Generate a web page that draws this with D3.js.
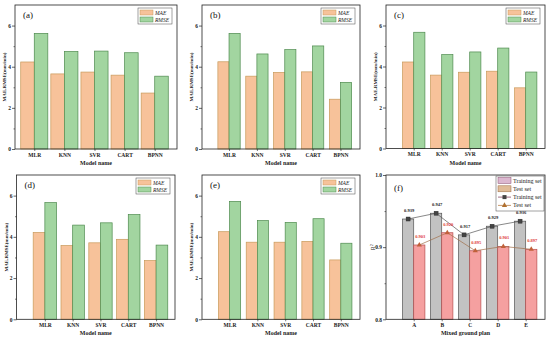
<!DOCTYPE html>
<html><head><meta charset="utf-8">
<script src="https://cdn.jsdelivr.net/npm/d3@7"></script>
<style>body{margin:0;background:#fff}svg{display:block}</style>
</head><body><div id="chart"></div>
<script>
const models = ["MLR","KNN","SVR","CART","BPNN"];
const maeA = [4.23,3.65,3.74,3.59,2.72];
const rmseA = [5.62,4.74,4.76,4.68,3.54];
const maeB = [4.24,3.54,3.72,3.75,2.42];
const rmseB = [5.62,4.62,4.83,5.01,3.24];
const maeC = [4.22,3.58,3.72,3.77,2.96];
const rmseC = [5.67,4.58,4.71,4.90,3.73];
const maeD = [4.21,3.58,3.71,3.88,2.85];
const rmseD = [5.66,4.57,4.68,5.08,3.60];
const maeE = [4.25,3.74,3.74,3.78,2.88];
const rmseE = [5.72,4.79,4.70,4.88,3.69];
const yTicks = [0,2,4,6];
const plans = ["A","B","C","D","E"];
const trainR2 = [0.939,0.947,0.917,0.929,0.936];
const testR2 = [0.903,0.920,0.895,0.901,0.897];
const r2Ticks = [0.8,0.9,1.0];

const W=550,H=340;
const svg=d3.select("#chart").append("svg").attr("width",W).attr("height",H);
const FONT="'Liberation Serif','Times New Roman',serif";
const C={maeF:"#f7c29a",maeS:"#c89a5a",rmseF:"#a2d5a0",rmseS:"#4e8a4e"};

function frame(g,b){
  g.append("rect").attr("x",b.l).attr("y",b.t).attr("width",b.r-b.l).attr("height",b.b-b.t)
   .attr("fill","none").attr("stroke","#222").attr("stroke-width",0.8);
}
function yAxis(g,b,y,ticks,minor,fmt){
  const ax=d3.axisLeft(y).tickValues(ticks).tickSize(3).tickFormat(fmt);
  const ga=g.append("g").attr("transform",`translate(${b.l},0)`).call(ax);
  ga.select(".domain").remove();
  ga.selectAll("line").attr("stroke","#222").attr("stroke-width",0.7);
  ga.selectAll("text").attr("font-family",FONT).attr("font-weight","bold").attr("font-size",5.5).attr("fill","#222").attr("x",-4);
  const gm=g.append("g").attr("transform",`translate(${b.l},0)`).call(d3.axisLeft(y).tickValues(minor).tickSize(1.5).tickFormat(""));
  gm.select(".domain").remove();
  gm.selectAll("line").attr("stroke","#222").attr("stroke-width",0.6);
}
function xAxis(g,b,x,cats,title){
  const ax=d3.axisBottom(x).tickValues(cats.map((c,i)=>i+1)).tickSize(2).tickFormat((d,i)=>cats[i]);
  const ga=g.append("g").attr("transform",`translate(0,${b.b})`).call(ax);
  ga.select(".domain").remove();
  ga.selectAll("line").attr("stroke","#222").attr("stroke-width",0.6);
  ga.selectAll("text").attr("font-family",FONT).attr("font-weight","bold").attr("font-size",5.5).attr("fill","#222").attr("y",4);
  g.append("text").attr("x",(b.l+b.r)/2).attr("y",b.b+16).attr("text-anchor","middle")
   .attr("font-family",FONT).attr("font-weight","bold").attr("font-size",6).attr("fill","#222").text(title);
}
function panelLabel(g,b,t,dx,dy){
  g.append("text").attr("x",b.l+dx).attr("y",b.t+dy).attr("font-family",FONT).attr("font-size",9).attr("fill","#111").text(t);
}

function barPanel(cfg){
  const b=cfg.box, g=svg.append("g");
  const x=d3.scaleLinear().domain(cfg.xd).range([b.l,b.r]);
  const y=d3.scaleLinear().domain([0,7]).range([b.b,b.t]);
  const bw=x(cfg.bw)-x(0);
  g.selectAll(".mae").data(cfg.mae).enter().append("rect")
   .attr("x",(d,i)=>x(i+1)-bw).attr("width",bw).attr("y",d=>y(d)).attr("height",d=>y(0)-y(d))
   .attr("fill",C.maeF).attr("stroke",C.maeS).attr("stroke-width",0.7);
  g.selectAll(".rmse").data(cfg.rmse).enter().append("rect")
   .attr("x",(d,i)=>x(i+1)).attr("width",bw).attr("y",d=>y(d)).attr("height",d=>y(0)-y(d))
   .attr("fill",C.rmseF).attr("stroke",C.rmseS).attr("stroke-width",0.7);
  frame(g,b);
  yAxis(g,b,y,yTicks,[1,3,5],d3.format("d"));
  xAxis(g,b,x,models,"Model name");
  g.append("text").attr("transform",`translate(${b.l-9},${(b.t+b.b)/2}) rotate(-90)`).attr("text-anchor","middle")
   .attr("font-family",FONT).attr("font-weight","bold").attr("font-size",5).attr("fill","#222").text("MAE,RMSE(mm/min)");
  panelLabel(g,b,cfg.label,8,13);
  // legend
  const lw=34,lh=16,lx=b.r-5-lw,ly=b.t+3;
  const lg=g.append("g");
  lg.append("rect").attr("x",lx).attr("y",ly).attr("width",lw).attr("height",lh).attr("fill","#fff").attr("stroke","#444").attr("stroke-width",0.5);
  [["MAE",C.maeF,C.maeS],["RMSE",C.rmseF,C.rmseS]].forEach((e,i)=>{
    lg.append("rect").attr("x",lx+2).attr("y",ly+2+i*7).attr("width",13).attr("height",5).attr("fill",e[1]).attr("stroke",e[2]).attr("stroke-width",0.5);
    lg.append("text").attr("x",lx+17).attr("y",ly+6.5+i*7).attr("font-family",FONT).attr("font-style","italic").attr("font-size",5.5).attr("fill","#222").text(e[0]);
  });
}

barPanel({box:{l:15,r:177,t:5,b:149},xd:[0.36,5.74],bw:0.45,mae:maeA,rmse:rmseA,label:"(a)"});
barPanel({box:{l:202,r:360,t:5,b:149},xd:[0.03,5.70],bw:0.4,mae:maeB,rmse:rmseB,label:"(b)"});
barPanel({box:{l:386,r:545,t:5,b:148.5},xd:[0.01,5.69],bw:0.4,mae:maeC,rmse:rmseC,label:"(c)"});
barPanel({box:{l:16.5,r:175,t:175,b:319.3},xd:[-0.02,5.68],bw:0.42,mae:maeD,rmse:rmseD,label:"(d)"});
barPanel({box:{l:202,r:360,t:175,b:319.3},xd:[0.01,5.69],bw:0.4,mae:maeE,rmse:rmseE,label:"(e)"});

// panel f
(function(){
  const b={l:386,r:545,t:175,b:319.3}, g=svg.append("g");
  const x=d3.scaleLinear().domain([0.01,5.69]).range([b.l,b.r]);
  const y=d3.scaleLinear().domain([0.8,1.0]).range([b.b,b.t]);
  const bw=x(0.4)-x(0);
  g.selectAll(".tr").data(trainR2).enter().append("rect")
   .attr("x",(d,i)=>x(i+1)-bw).attr("width",bw).attr("y",d=>y(d)).attr("height",d=>y(0.8)-y(d))
   .attr("fill","#c2c2c2").attr("stroke","#555").attr("stroke-width",0.7);
  g.selectAll(".te").data(testR2).enter().append("rect")
   .attr("x",(d,i)=>x(i+1)).attr("width",bw).attr("y",d=>y(d)).attr("height",d=>y(0.8)-y(d))
   .attr("fill","#f5a0a0").attr("stroke","#b85050").attr("stroke-width",0.7);
  const lnTr=d3.line().x((d,i)=>x(i+1)-bw/2).y(d=>y(d));
  const lnTe=d3.line().x((d,i)=>x(i+1)+bw/2).y(d=>y(d));
  g.append("path").attr("d",lnTr(trainR2)).attr("fill","none").attr("stroke","#555").attr("stroke-width",0.7);
  g.append("path").attr("d",lnTe(testR2)).attr("fill","none").attr("stroke","#a0704a").attr("stroke-width",0.7);
  g.selectAll(".sq").data(trainR2).enter().append("rect")
   .attr("x",(d,i)=>x(i+1)-bw/2-2).attr("y",d=>y(d)-2).attr("width",4).attr("height",4)
   .attr("fill","#444").attr("stroke","#222").attr("stroke-width",0.4);
  const tri=d3.symbol().type(d3.symbolTriangle).size(12);
  g.selectAll(".tri").data(testR2).enter().append("path").attr("d",tri)
   .attr("transform",(d,i)=>`translate(${x(i+1)+bw/2},${y(d)})`).attr("fill","#c0603a");
  g.selectAll(".lt").data(trainR2).enter().append("text")
   .attr("x",(d,i)=>x(i+1)-bw/2+1).attr("y",d=>y(d)-7).attr("text-anchor","middle")
   .attr("font-family",FONT).attr("font-weight","bold").attr("font-size",4.5).attr("fill","#222").text(d=>d3.format(".3f")(d));
  g.selectAll(".le").data(testR2).enter().append("text")
   .attr("x",(d,i)=>x(i+1)+bw/2+1).attr("y",d=>y(d)-7).attr("text-anchor","middle")
   .attr("font-family",FONT).attr("font-weight","bold").attr("font-size",4.5).attr("fill","#e03a3a").text(d=>d3.format(".3f")(d));
  frame(g,b);
  yAxis(g,b,y,r2Ticks,[0.85,0.95],d3.format(".1f"));
  xAxis(g,b,x,plans,"Mixed ground plan");
  g.append("text").attr("transform",`translate(${b.l-11},${y(0.9)}) rotate(-90)`).attr("text-anchor","middle")
   .attr("font-family",FONT).attr("font-size",6).attr("fill","#222").html("R<tspan baseline-shift='super' font-size='4'>2</tspan>");
  panelLabel(g,b,"(f)",8,16);
  const lx=496,ly=176,lw=48,lh=35;
  g.append("rect").attr("x",lx).attr("y",ly).attr("width",lw).attr("height",lh).attr("fill","#fff").attr("stroke","#444").attr("stroke-width",0.5);
  const items=[["Training set","box","#dcb8d0","#8a5070"],["Test set","box","#e0bc98","#9a6a40"],["Training set","sq","#7a3050"],["Test set","tri","#b07030"]];
  items.forEach((e,i)=>{
    const cy=ly+4.5+i*8.3;
    if(e[1]==="box"){
      g.append("rect").attr("x",lx+2).attr("y",cy-3).attr("width",13).attr("height",6).attr("fill",e[2]).attr("stroke",e[3]).attr("stroke-width",0.5);
    } else {
      g.append("line").attr("x1",lx+2).attr("x2",lx+15).attr("y1",cy).attr("y2",cy).attr("stroke",e[2]).attr("stroke-width",0.7);
      if(e[1]==="sq") g.append("rect").attr("x",lx+6.5).attr("y",cy-2).attr("width",4).attr("height",4).attr("fill","#444");
      else g.append("path").attr("d",tri).attr("transform",`translate(${lx+8.5},${cy})`).attr("fill",e[2]);
    }
    g.append("text").attr("x",lx+17).attr("y",cy+2).attr("font-family",FONT).attr("font-size",6).attr("fill","#222").text(e[0]);
  });
})();
</script></body></html>
